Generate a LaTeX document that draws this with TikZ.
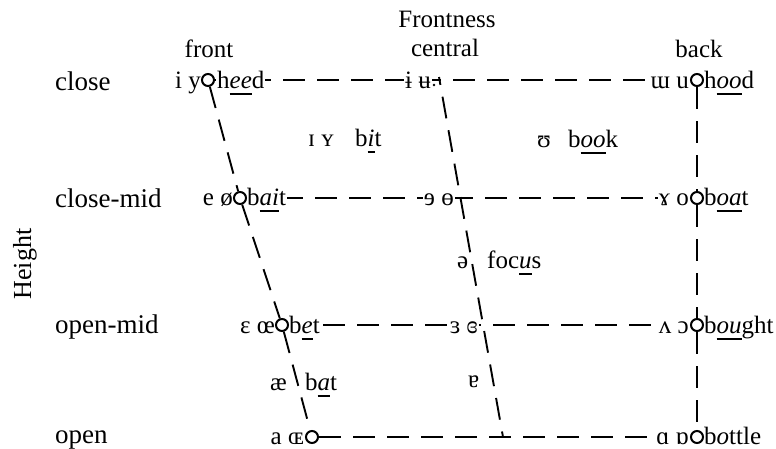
\documentclass[tikz,border=0pt]{standalone}
\usepackage{fontspec}
\setmainfont{Liberation Serif}
\newcommand{\uit}[1]{\setbox0\hbox{\itshape #1}\rlap{\rule[-6.5pt]{\wd0}{1.8pt}}\box0}
\pgfdeclarelayer{bg}
\pgfsetlayers{bg,main}
\begin{document}
\begin{tikzpicture}[x=1pt,y=-1pt,
  every node/.style={font=\fontsize{25}{30}\selectfont, inner sep=0.5pt},
  dline/.style={line width=1.9pt, dash pattern=on 22pt off 12pt},
  vpt/.style={circle, draw, line width=2pt, fill=white, minimum size=12pt, inner sep=0pt},
  lbl/.style={fill=white, inner sep=1pt},
  lft/.style={lbl, anchor=base east},
  rgt/.style={lbl, anchor=base west},
  mid/.style={anchor=base west, inner sep=0pt},
  rowlab/.style={anchor=base west, inner sep=0pt, font=\fontsize{27}{32}\selectfont},
  head/.style={anchor=base, inner sep=0pt}
  ]
\useasboundingbox (0,0) rectangle (776,448);

% headers
\node[head] (hfr) at (447,27) {Frontness};
\node[head] (hce) at (445,56) {central};
\node[head] (hf) at (209,57) {front};
\node[head] (hb) at (699,57) {back};
\node[rotate=90, inner sep=0pt, font=\fontsize{26}{30}\selectfont] (hh) at (25,264) {Height};
\node[rowlab] (rc) at (55,90) {close};
\node[rowlab] (rcm) at (55,207) {close-mid};
\node[rowlab] (rom) at (55,333) {open-mid};
\node[rowlab] (ro) at (55,443) {open};

% close row
\node[lft] (l1) at (202,88) {i y};
\node[rgt] (l2) at (216,88) {h\uit{ee}d};
\node[lft] (l3) at (432,88) {ɨ ʉ};
\node[lft] (l4) at (690,88) {ɯ u};
\node[rgt] (l5) at (703,88) {h\uit{oo}d};
% close-mid row
\node[lft] (l6) at (234,205) {e ø};
\node[rgt] (l7) at (246,205) {b\uit{ai}t};
\node[lft] (l8) at (455,205) {ɘ ɵ};
\node[lft] (l9) at (690,205) {ɤ o};
\node[rgt] (l10) at (703,205) {b\uit{oa}t};
% open-mid row
\node[lft] (l11) at (276,333) {ɛ œ};
\node[rgt] (l12) at (288,333) {b\uit{e}t};
\node[lft] (l13) at (479,333) {ɜ ɞ};
\node[lft] (l14) at (690,333) {ʌ ɔ};
\node[rgt] (l15) at (703,333) {b\uit{ou}ght};
% open row
\node[lft] (l16) at (305,444) {a ɶ};
\node[lft] (l17) at (690,444) {ɑ ɒ};
\node[rgt] (l18) at (703,444) {b\uit{o}ttle};
% in-between
\node[mid] (m1) at (308,146) {ɪ ʏ};
\node[mid] (m2) at (355,146) {b\uit{i}t};
\node[mid] (m3) at (537,147) {ʊ};
\node[mid] (m4) at (568,147) {b\uit{oo}k};
\node[mid] (m5) at (457,268) {ə};
\node[mid] (m6) at (487,268) {foc\uit{u}s};
\node[mid] (m7) at (270,390) {æ};
\node[mid] (m8) at (305,390) {b\uit{a}t};
\node[mid] (m9) at (468,387) {ɐ};

% vowel points
\node[vpt] (cf) at (208,80) {};
\node[vpt] (cmf) at (240,198) {};
\node[vpt] (omf) at (282,325) {};
\node[vpt] (of) at (312,437) {};
\node[vpt] (cb) at (697,80) {};
\node[vpt] (cmb) at (697,198) {};
\node[vpt] (omb) at (697,325) {};
\node[vpt] (ob) at (697,437) {};
\coordinate (cc) at (439,77);
\coordinate (co) at (503,437);
\fill (434,85) circle (1.3pt);

\begin{pgfonlayer}{bg}
\draw[dline] (cf) -- (cb);
\draw[dline] (cmf) -- (cmb);
\draw[dline] (omf) -- (omb);
\draw[dline] (of) -- (ob);
\draw[dline] (cf) -- (cmf);
\draw[dline] (cmf) -- (omf);
\draw[dline] (omf) -- (of);
\draw[dline] (cb) -- (cmb);
\draw[dline] (cmb) -- (omb);
\draw[dline] (omb) -- (ob);
\draw[dline, dash phase=14pt] (cc) -- (co);
\end{pgfonlayer}
\end{tikzpicture}
\end{document}
